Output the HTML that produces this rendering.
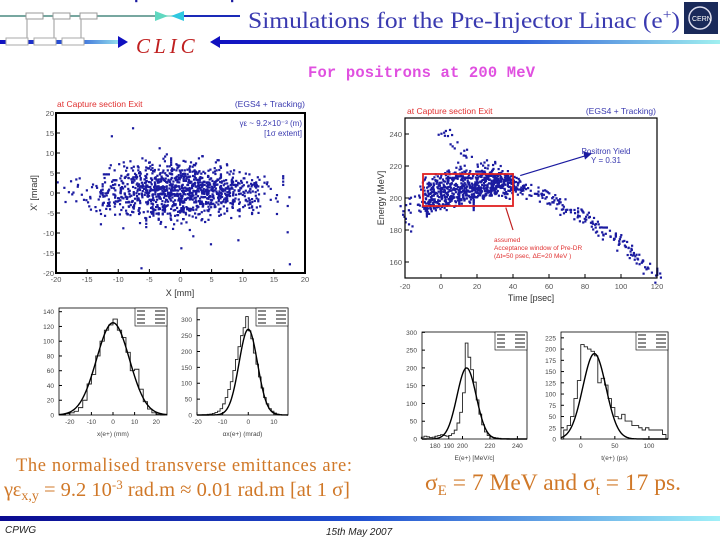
<!DOCTYPE html>
<html><head><meta charset="utf-8">
<style>
html,body{margin:0;padding:0;background:#fff;width:720px;height:540px;overflow:hidden;position:relative;font-family:"Liberation Sans",sans-serif}
svg text{font-family:"Liberation Sans",sans-serif}
</style></head><body>
<svg id="s" width="720" height="540" viewBox="0 0 720 540" xmlns="http://www.w3.org/2000/svg">
<defs>
<linearGradient id="gb" x1="0" x2="1"><stop offset="0" stop-color="#1010c0"/><stop offset="0.6" stop-color="#3060d8"/><stop offset="1" stop-color="#a0f0f0"/></linearGradient>
<linearGradient id="gb2" x1="0" x2="1"><stop offset="0" stop-color="#0a0a90"/><stop offset="0.5" stop-color="#2050d0"/><stop offset="1" stop-color="#a0f0f8"/></linearGradient>
</defs>
<g>
<line x1="0" y1="16" x2="160" y2="16" stroke="#4a8a80" stroke-width="1.5"/>
<line x1="160" y1="16" x2="240" y2="16" stroke="#9ad8c8" stroke-width="1.5"/>
<rect x="26" y="13" width="17" height="6" fill="#fff" stroke="#999"/>
<rect x="53" y="13" width="17" height="6" fill="#fff" stroke="#999"/>
<rect x="80" y="13" width="17" height="6" fill="#fff" stroke="#999"/>
<path d="M27 19V42M54 19V42M81 19V42" stroke="#aaa" stroke-width="1.2"/>
<polygon points="155,11 168,16 155,21" fill="#60d8c0"/>
<polygon points="184,11 171,16 184,21" fill="#30c8e0"/>
<line x1="184" y1="16" x2="240" y2="16" stroke="#1a2ab8" stroke-width="2"/>
<rect x="0" y="40" width="125" height="4" fill="url(#gb)"/>
<rect x="6" y="38" width="22" height="7" fill="#fff" stroke="#aaa"/>
<rect x="34" y="38" width="22" height="7" fill="#fff" stroke="#aaa"/>
<rect x="62" y="38" width="22" height="7" fill="#fff" stroke="#aaa"/>
<polygon points="118,36 128,42 118,48" fill="#1010c0"/>
<text x="136" y="53" font-size="21" font-style="italic" fill="#c02020" style="font-family:'Liberation Serif',serif" letter-spacing="4">CLIC</text>
<polygon points="220,36 210,42 220,48" fill="#1010c0"/>
<rect x="218" y="40" width="502" height="4" fill="url(#gb)"/>
<rect x="684" y="2" width="34" height="32" fill="#1a2a5a"/>
<circle cx="700" cy="18" r="11" fill="none" stroke="#dde" stroke-width="1.5"/>
<text x="692" y="21" font-size="7" fill="#fff">CERN</text>
</g>
<text x="248" y="28" font-size="23" fill="#3a3ab0" style="font-family:'Liberation Serif',serif" textLength="432" lengthAdjust="spacingAndGlyphs">Simulations for the Pre-Injector Linac (e<tspan dy="-9" font-size="14">+</tspan><tspan dy="9">)</tspan></text>
<text x="308" y="77" font-size="15.5" fill="#e050e0" font-weight="bold" style="font-family:'Liberation Mono',monospace" textLength="227">For positrons at 200 MeV</text>

<g id="sc1"></g>
<g id="sc2"></g>
<g id="h1"></g>
<g id="h2"></g>
<g id="h3"></g>
<g id="h4"></g>

<text x="16" y="471" font-size="18.5" fill="#d07828" style="font-family:'Liberation Serif',serif" textLength="336">The normalised transverse emittances are:</text>
<text x="4" y="496" font-size="20.5" fill="#d07828" style="font-family:'Liberation Serif',serif">γε<tspan font-size="14" dy="4">x,y</tspan><tspan dy="-4"> = 9.2 10</tspan><tspan font-size="13" dy="-7">-3</tspan><tspan dy="7"> rad.m  ≈  0.01 rad.m  [at 1 σ]</tspan></text>
<text x="425" y="490" font-size="23.5" fill="#d07828" style="font-family:'Liberation Serif',serif">σ<tspan font-size="15" dy="5">E</tspan><tspan dy="-5"> = 7 MeV and σ</tspan><tspan font-size="15" dy="5">t</tspan><tspan dy="-5"> = 17 ps.</tspan></text>
<rect x="0" y="516" width="720" height="5" fill="url(#gb2)"/>
<text x="5" y="533" font-size="10" fill="#222" font-style="italic">CPWG</text>
<text x="326" y="535" font-size="10" fill="#222" font-style="italic">15th May 2007</text>
</svg>
<script>
// ---- data ----
const sc1X=[-18,-17,-16,-15,-15,-14,-14,-13,-13,-12,-12,-12,-11,-11,-11,-10,-10,-10,-10,-9,-9,-9,-9,-8,-8,-8,-8,-8,-7,-7,-7,-7,-7,-6,-6,-6,-6,-6,-6,-5,-5,-5,-5,-5,-5,-4,-4,-4,-4,-4,-4,-4,-3,-3,-3,-3,-3,-3,-3,-2,-2,-2,-2,-2,-2,-2,-1,-1,-1,-1,-1,-1,-1,0,0,0,0,0,0,0,0,1,1,1,1,1,1,1,2,2,2,2,2,2,2,3,3,3,3,3,3,3,4,4,4,4,4,4,5,5,5,5,5,5,6,6,6,6,6,6,7,7,7,7,7,8,8,8,8,8,9,9,9,9,10,10,10,10,11,11,11,12,12,12,13,13,14,14,15,16,17,18,-11,-8,-6,0,1,5,9,-3,2,7,-9,-13,4,-1,3,-5,6,10,-7,8];
const sc1Y=[2,-1,0,3,-3,1,-4,4,-2,2,-1,-5,5,0,-3,6,1,-2,-6,3,-4,0,7,5,-1,2,-6,4,1,-3,6,-7,3,0,-4,8,2,-2,5,-5,1,3,-1,6,-6,0,4,-3,2,-5,7,-1,3,-2,5,0,-6,8,1,-4,2,6,-1,3,-7,0,4,-3,9,1,-5,2,-1,5,-2,0,3,-4,6,1,-8,2,4,-1,-3,7,0,-6,3,-2,1,5,-5,8,-1,2,-3,4,0,6,-6,1,3,-2,5,-4,0,2,-1,4,-5,7,1,3,-3,0,6,-2,2,-4,5,0,-1,3,1,-3,4,-5,0,2,-2,5,1,-1,3,-4,0,2,-3,1,-2,4,0,3,-1,2,-4,1,3,-2,-10,-18,14,16,-19,-14,4,-13,-12,11,-11,7,-9,-8,9,-8,-7,6,8,-6];
const sc2T=[-20,-19,-18,-15,-12,-10,-9,-8,-8,-7,-6,-5,-5,-4,-3,-2,-2,-1,0,0,1,2,2,3,4,4,5,6,6,7,8,8,9,10,10,11,12,12,13,14,14,15,16,16,17,18,18,19,20,20,21,22,22,23,24,24,25,26,26,27,28,28,29,30,30,31,32,32,33,34,35,36,37,38,39,40,41,42,44,45,47,48,50,52,54,55,57,58,60,62,64,65,67,68,70,72,74,75,77,78,80,82,84,85,87,88,90,92,94,95,97,98,100,102,104,105,107,108,110,112,114,115,118,120,-10,-5,0,5,10,15,20,25,30,35,-6,-2,3,8,13,18,23,28,33,38,-8,-3,6,11,16,21,26,31,36,0,4,7,12,15,22,28];
const sc2E=[194,188,182,198,200,192,205,196,210,199,203,194,208,201,197,212,205,199,203,208,196,210,201,206,199,214,203,208,198,211,204,200,213,206,199,209,202,215,205,200,211,207,202,214,206,203,210,205,212,207,204,215,209,206,211,205,213,208,204,216,210,207,213,209,205,212,208,214,210,206,211,213,208,210,206,209,211,207,205,208,204,206,203,205,201,203,200,202,199,197,199,195,197,193,194,191,192,189,190,187,188,185,186,183,182,180,180,177,178,175,173,174,170,171,168,166,165,163,162,159,158,155,153,150,195,201,205,209,212,210,208,213,211,214,197,204,198,202,207,199,203,206,208,212,193,209,215,218,196,218,200,221,203,238,241,232,225,228,220,222];
const h1Edges=-24, h1W=2;
const h1C=[0,2,3,5,10,20,42,55,80,100,115,122,130,115,105,85,60,62,35,18,8,3,1,0];
const h2Edges=-20, h2W=1;
const h2C=[0,0,1,1,2,3,5,8,12,20,35,55,80,105,140,175,215,250,275,310,265,240,195,160,120,85,55,35,20,12,6,3,1,0,0];
const h3Edges=170, h3W=2;
const h3C=[5,8,6,4,5,8,10,12,10,8,10,15,25,45,75,130,270,230,195,160,110,70,40,20,10,6,4,3,2,1,1,1,0,0,0,0,0,0];
const h4Edges=-25, h4W=5;
const h4C=[20,30,50,90,130,210,205,200,195,185,125,135,120,90,70,50,45,55,40,40,30,30,25,20,25,20,20,20,20,10];
const fits={h1:[125,0,7.6],h2:[270,0,3.6],h3:[200,203,7],h4:[190,20,17]};

const NS='http://www.w3.org/2000/svg';
function mk(p,t,a){const e=document.createElementNS(NS,t);for(const k in a)e.setAttribute(k,a[k]);p.appendChild(e);return e;}
function txt(p,x,y,s,size,fill,anchor){const e=mk(p,'text',{x:x,y:y,'font-size':size,fill:fill||'#222','text-anchor':anchor||'start'});e.textContent=s;return e;}
function frame(g,x0,y0,x1,y1,w){mk(g,'rect',{x:x0,y:y0,width:x1-x0,height:y1-y0,fill:'none',stroke:'#000','stroke-width':w});}
function jit(i,k,m){return (((i*31+k*17+i*k*7)%m)/m)-0.5;}

// scatter 1
(function(){
 const g=document.getElementById('sc1');
 const L=56,R=305,T=113,B=273;
 const sx=v=>L+(v+20)/40*(R-L), sy=v=>B-(v+20)/40*(B-T);
 txt(g,57,107,'at Capture section Exit',8.5,'#e03030');
 txt(g,305,107,'(EGS4 + Tracking)',8.5,'#3a3ab0','end');
 txt(g,302,126,'γε ~ 9.2×10⁻³ (m)',8,'#3a3ab0','end');
 txt(g,302,136,'[1σ extent]',8,'#3a3ab0','end');
 for(let i=0;i<sc1X.length;i++){
  for(let k=0;k<8;k++){
   const s=(i<150)?(k<4?1:0.6):(k==0?0:-1);
   if(s<0)continue;
   const x=sc1X[i]*(k<4?1:0.75)+jit(i,k,13)*3.5*(s||0.3);
   const y=sc1Y[i]*(k<4?1:0.7)+jit(i,k+5,11)*3*(s||0.3);
   const d=mk(g,'rect',{x:sx(x)-1,y:sy(y)-1,width:2.2,height:2.2,fill:'#1a1aa0'});
   
   
  }
 }
 frame(g,L,T,R,B,2);
 for(let v=-20;v<=20;v+=5){
  mk(g,'line',{x1:sx(v),y1:B,x2:sx(v),y2:B-4,stroke:'#000'});
  mk(g,'line',{x1:L,y1:sy(v),x2:L+4,y2:sy(v),stroke:'#000'});
  txt(g,sx(v),282,String(v),7.5,'#555','middle');
  txt(g,L-2,sy(v)+3,String(v),7.5,'#555','end');
 }
 txt(g,180,296,'X [mm]',9,'#333','middle');
 const yl=txt(g,0,0,"X' [mrad]",9,'#333','middle');yl.setAttribute('transform','translate(37,193) rotate(-90)');
})();

// scatter 2
(function(){
 const g=document.getElementById('sc2');
 const L=405,R=657,T=118,B=278;
 const sx=v=>L+(v+20)/140*(R-L), sy=v=>B-(v-150)/100*(B-T);
 txt(g,407,114,'at Capture section Exit',8.5,'#e03030');
 txt(g,656,114,'(EGS4 + Tracking)',8.5,'#3a3ab0','end');
 for(let i=0;i<sc2T.length;i++){
  const n=(sc2T[i]>=-10&&sc2T[i]<=45&&sc2E[i]<218)?8:4;
  for(let k=0;k<n;k++){
   const d=mk(g,'rect',{x:sx(sc2T[i]+jit(i,k,13)*5)-1,y:sy(sc2E[i]+jit(i,k+3,11)*7)-1,width:2.2,height:2.2,fill:'#1a1aa0'});
   
   
  }
 }
 mk(g,'rect',{x:sx(-10),y:sy(215),width:sx(40)-sx(-10),height:sy(195)-sy(215),fill:'none',stroke:'#e02020','stroke-width':1.8});
 mk(g,'line',{x1:sx(44),y1:sy(214),x2:sx(82),y2:sy(227),stroke:'#1a1aa0','stroke-width':1.2});
 mk(g,'polygon',{points:`${sx(84)},${sy(228)} ${sx(79)},${sy(229)} ${sx(80)},${sy(224)}`,fill:'#1a1aa0'});
 txt(g,606,154,'Positron Yield',8,'#3a3ab0','middle');
 txt(g,606,163,'Y = 0.31',8,'#3a3ab0','middle');
 mk(g,'line',{x1:sx(36),y1:sy(194),x2:sx(40),y2:sy(180),stroke:'#c02020','stroke-width':1.2});
 txt(g,494,242,'assumed',6.5,'#e03030');
 txt(g,494,250,'Acceptance window of Pre-DR',6.5,'#e03030');
 txt(g,494,258,'(Δt=50 psec, ΔE=20 MeV )',6.5,'#e03030');
 frame(g,L,T,R,B,1.2);
 for(let v=-20;v<=120;v+=20){mk(g,'line',{x1:sx(v),y1:B,x2:sx(v),y2:B-4,stroke:'#000'});txt(g,sx(v),289,String(v),7.5,'#555','middle');}
 for(let v=160;v<=240;v+=20){mk(g,'line',{x1:L,y1:sy(v),x2:L+4,y2:sy(v),stroke:'#000'});txt(g,L-3,sy(v)+3,String(v),7.5,'#555','end');}
 txt(g,531,301,'Time [psec]',9,'#333','middle');
 const yl=txt(g,0,0,'Energy [MeV]',9,'#333','middle');yl.setAttribute('transform','translate(384,198) rotate(-90)');
})();

function hist(id,L,R,T,B,xmin,xmax,ymax,e0,w,C,fit,xt,yt,xlab){
 const g=document.getElementById(id);
 const sx=v=>L+(v-xmin)/(xmax-xmin)*(R-L), sy=v=>B-v/ymax*(B-T);
 let d='M'+sx(e0)+','+B;
 for(let i=0;i<C.length;i++){d+=' L'+sx(e0+i*w)+','+sy(C[i])+' L'+sx(e0+(i+1)*w)+','+sy(C[i]);}
 d+=' L'+sx(e0+C.length*w)+','+B;
 const p=mk(g,'path',{d:d,fill:'none',stroke:'#222','stroke-width':0.9});
 
 
 let f='';
 for(let i=0;i<=100;i++){const x=xmin+(xmax-xmin)*i/100;const y=fit[0]*Math.exp(-0.5*Math.pow((x-fit[1])/fit[2],2));f+=(i?' L':'M')+sx(x)+','+sy(y);}
 const fl=mk(g,'path',{d:f,fill:'none',stroke:'#000','stroke-width':1.4});
 
 
 frame(g,L,T,R,B,0.8);
 mk(g,'rect',{x:R-32,y:T,width:32,height:18,fill:'#fff',stroke:'#000','stroke-width':0.6});
 for(let k=0;k<4;k++)mk(g,'line',{x1:R-30,y1:T+3+k*4,x2:R-2,y2:T+3+k*4,stroke:'#444','stroke-width':1.2,'stroke-dasharray':'8 10 10'});
 xt.forEach(v=>{mk(g,'line',{x1:sx(v),y1:B,x2:sx(v),y2:B-3,stroke:'#000'});txt(g,sx(v),B+9,String(v),6.5,'#444','middle');});
 yt.forEach(v=>{mk(g,'line',{x1:L,y1:sy(v),x2:L+3,y2:sy(v),stroke:'#000'});txt(g,L-5,sy(v)+2.5,String(v),6.5,'#444','end');});
 txt(g,(L+R)/2,B+21,xlab,6.5,'#444','middle');
}
hist('h1',59,167,308,415,-25,25,145,h1Edges,h1W,h1C,fits.h1,[-20,-10,0,10,20],[0,20,40,60,80,100,120,140],'x(e+) (mm)');
hist('h2',197,288,308,415,-20,15.5,337,h2Edges,h2W,h2C,fits.h2,[-20,-10,0,10],[0,50,100,150,200,250,300],'αx(e+) (mrad)');
hist('h3',422,527,332,439,170.5,247,301,h3Edges,h3W,h3C,fits.h3,[180,190,200,220,240],[0,50,100,150,200,250,300],'E(e+) [MeV/c]');
hist('h4',561,668,332,439,-29,128,238,h4Edges,h4W,h4C,fits.h4,[0,50,100],[0,25,50,75,100,125,150,175,200,225],'t(e+) (ps)');
</script>
</body></html>
